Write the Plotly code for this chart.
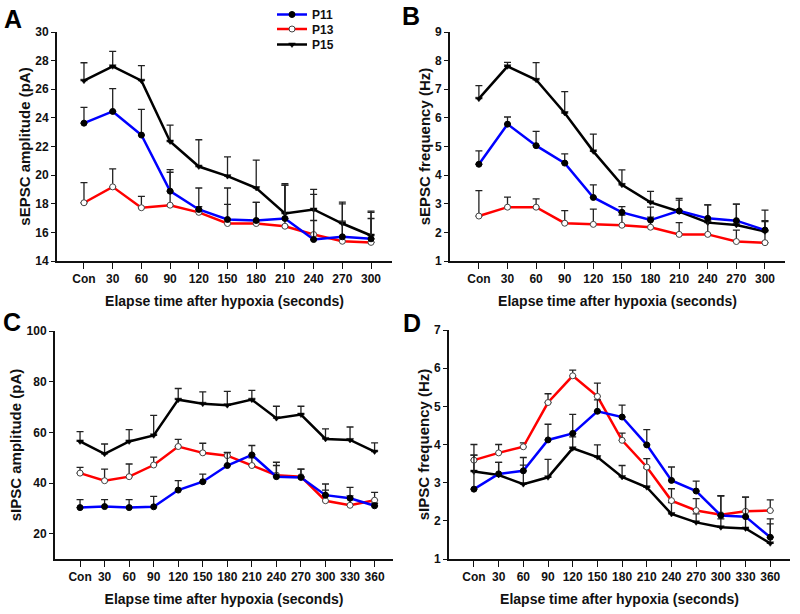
import plotly.graph_objects as go

# ---------------- data ----------------
cats_ab = ["Con", "30", "60", "90", "120", "150", "180", "210", "240", "270", "300"]
cats_cd = ["Con", "30", "60", "90", "120", "150", "180", "210", "240", "270", "300", "330", "360"]

# Panel A: sEPSC amplitude (pA)
P11_A = [23.63, 24.45, 22.8, 18.88, 17.6, 16.9, 16.83, 16.97, 15.5, 15.69, 15.55]
P11_A_err = [1.1, 1.6, 1.8, 1.5, 1.5, 2.2, 1.27, 2.33, 1.33, 2.3, 1.85]
P13_A = [18.07, 19.18, 17.72, 17.9, 17.4, 16.62, 16.62, 16.43, 15.85, 15.38, 15.3]
P13_A_err = [1.4, 1.26, 0.8, 2.3, 0.4, 1.33, 1.48, 2.87, 2.8, 1.4, 1.67]
P15_A = [26.6, 27.6, 26.6, 22.35, 20.6, 19.93, 19.1, 17.32, 17.6, 16.62, 15.78]
P15_A_err = [1.25, 1.05, 1.05, 1.15, 1.87, 1.35, 1.95, 2.08, 1.4, 1.5, 1.7]

# Panel B: sEPSC frequency (Hz)
P11_B = [4.38, 5.78, 5.03, 4.42, 3.22, 2.7, 2.43, 2.75, 2.49, 2.41, 2.08]
P11_B_err = [0.47, 0.25, 0.5, 0.32, 0.44, 0.2, 0.45, 0.38, 0.47, 0.58, 0.33]
P13_B = [2.57, 2.88, 2.88, 2.32, 2.28, 2.25, 2.18, 1.93, 1.93, 1.68, 1.64]
P13_B_err = [0.89, 0.35, 0.29, 0.44, 0.53, 0.35, 0.35, 0.41, 0.5, 0.4, 0.74]
P15_B = [6.67, 7.8, 7.33, 6.17, 4.83, 3.66, 3.05, 2.73, 2.34, 2.26, 2.03]
P15_B_err = [0.46, 0.14, 0.6, 0.75, 0.6, 0.52, 0.38, 0.46, 0.62, 0.73, 0.75]

# Panel C: sIPSC amplitude (pA)
P11_C = [30.3, 30.7, 30.3, 30.6, 37.2, 40.5, 46.9, 51.1, 42.5, 42.2, 35.2, 34.0, 31.0]
P11_C_err = [3.1, 2.7, 3.1, 4.1, 3.7, 3.0, 5.2, 3.7, 4.4, 3.3, 4.4, 4.3, 1.0]
P13_C = [43.9, 40.9, 42.5, 47.1, 54.4, 51.9, 50.8, 46.9, 43.1, 42.5, 33.0, 31.2, 33.2]
P13_C_err = [2.3, 4.6, 5.0, 3.1, 2.8, 3.8, 1.1, 3.0, 5.1, 3.0, 4.2, 3.7, 3.1]
P15_C = [56.4, 51.5, 56.4, 58.8, 72.9, 71.3, 70.7, 72.9, 65.6, 67.0, 57.4, 57.0, 52.4]
P15_C_err = [3.9, 3.9, 4.7, 7.9, 4.4, 4.7, 5.5, 3.7, 4.7, 3.3, 4.0, 5.1, 3.4]

# Panel D: sIPSC frequency (Hz)
P11_D = [2.83, 3.23, 3.31, 4.12, 4.29, 4.87, 4.72, 3.99, 3.06, 2.78, 2.14, 2.11, 1.57]
P11_D_err = [0.89, 0.3, 0.35, 0.41, 0.5, 0.3, 0.31, 0.4, 0.35, 0.26, 0.51, 0.51, 0.48]
P13_D = [3.59, 3.78, 3.94, 5.1, 5.8, 5.26, 4.11, 3.41, 2.53, 2.27, 2.16, 2.25, 2.27]
P13_D_err = [0.41, 0.22, 0.1, 0.23, 0.15, 0.35, 0.19, 0.22, 0.31, 0.31, 0.5, 0.37, 0.28]
P15_D = [3.29, 3.2, 2.96, 3.14, 3.9, 3.67, 3.15, 2.88, 2.18, 1.96, 1.83, 1.8, 1.41]
P15_D_err = [0.43, 0.33, 0.5, 0.47, 0.3, 0.32, 0.3, 0.5, 0.3, 0.22, 0.22, 0.29, 0.51]

series_names = ["P11", "P13", "P15"]
y_titles = ["sEPSC amplitude (pA)", "sEPSC frequency (Hz)", "sIPSC amplitude (pA)", "sIPSC frequency (Hz)"]
x_title = "Elapse time after hypoxia (seconds)"
panel_letters = ["A", "B", "C", "D"]

# ---------------- styling ----------------
W, H = 800, 614
FONT = "Liberation Sans, Arial, sans-serif"
line_colors = {"P11": "#0000ff", "P13": "#ff0000", "P15": "#000000"}
marker_styles = {
    "P11": dict(symbol="circle", size=6, color="#000000", line=dict(color="#000000", width=1)),
    "P13": dict(symbol="circle", size=6, color="#ffffff", line=dict(color="#444444", width=1)),
    "P15": dict(symbol="triangle-down", size=6, color="#000000", line=dict(color="#000000", width=0.5)),
}
legend_ids = {"P11": "legend", "P13": "legend2", "P15": "legend3"}
legend_tops = {"P11": 0, "P13": 14.5, "P15": 30}  # page px of each legend box top


def px_x(p):
    return p / W


def px_y(p):
    return 1 - p / H


panels = [
    dict(cats=cats_ab, data={"P11": (P11_A, P11_A_err), "P13": (P13_A, P13_A_err), "P15": (P15_A, P15_A_err)},
         xdom=(57, 392), ydom=(32, 261), yrange=(14, 30), dtick=2, tick0=14, xrange=(-0.94, 10.73)),
    dict(cats=cats_ab, data={"P11": (P11_B, P11_B_err), "P13": (P13_B, P13_B_err), "P15": (P15_B, P15_B_err)},
         xdom=(450, 785), ydom=(32, 261), yrange=(1, 9), dtick=1, tick0=1, xrange=(-1.01, 10.7)),
    dict(cats=cats_cd, data={"P11": (P11_C, P11_C_err), "P13": (P13_C, P13_C_err), "P15": (P15_C, P15_C_err)},
         xdom=(55, 393), ydom=(331, 559), yrange=(10, 100), dtick=20, tick0=0, xrange=(-1.02, 12.75)),
    dict(cats=cats_cd, data={"P11": (P11_D, P11_D_err), "P13": (P13_D, P13_D_err), "P15": (P15_D, P15_D_err)},
         xdom=(449, 790), ydom=(330, 559), yrange=(1, 7), dtick=1, tick0=1, xrange=(-1.01, 12.8)),
]

fig = go.Figure()
draw_order = ["P15", "P13", "P11"]
for i, p in enumerate(panels):
    xa = "x" if i == 0 else f"x{i+1}"
    ya = "y" if i == 0 else f"y{i+1}"
    for name in draw_order:
        vals, errs = p["data"][name]
        fig.add_trace(go.Scatter(
            x=p["cats"], y=vals, mode="lines+markers", name=name,
            xaxis=xa, yaxis=ya,
            line=dict(color=line_colors[name], width=2.5),
            marker=marker_styles[name],
            error_y=dict(type="data", array=errs, arrayminus=[0] * len(errs), symmetric=False,
                         color="#222222", thickness=1.3, width=3.5),
            showlegend=(i == 0), legend=legend_ids[name],
        ))

legend_font = dict(family=FONT, size=12, color="#111111", weight="bold")
layout = dict(
    width=W, height=H, margin=dict(l=0, r=0, t=0, b=0),
    paper_bgcolor="white", plot_bgcolor="white",
    font=dict(family=FONT, size=12, color="#111111", weight="bold"),
    showlegend=True,
)
for name in series_names:
    layout[legend_ids[name]] = dict(
        x=px_x(272), y=px_y(legend_tops[name]), xanchor="left", yanchor="top",
        font=legend_font, bgcolor="rgba(0,0,0,0)", itemwidth=30,
    )

annotations = []
for i, p in enumerate(panels):
    xk = "xaxis" if i == 0 else f"xaxis{i+1}"
    yk = "yaxis" if i == 0 else f"yaxis{i+1}"
    ya = "y" if i == 0 else f"y{i+1}"
    xa = "x" if i == 0 else f"x{i+1}"
    layout[xk] = dict(
        domain=[px_x(p["xdom"][0]), px_x(p["xdom"][1])],
        anchor=ya, type="category", categoryorder="array", categoryarray=p["cats"],
        range=list(p["xrange"]), showgrid=False, zeroline=False,
        showline=True, linecolor="#111111", linewidth=2,
        ticks="outside", ticklen=6, tickwidth=1.2, tickcolor="#111111",
        tickfont=dict(family=FONT, size=12, color="#111111", weight="bold"),
        title=dict(text=x_title, font=dict(family=FONT, size=14, color="#111111", weight="bold"), standoff=11),
        automargin=False,
    )
    layout[yk] = dict(
        domain=[px_y(p["ydom"][1]), px_y(p["ydom"][0])],
        anchor=xa, range=list(p["yrange"]), dtick=p["dtick"], tick0=p["tick0"],
        showgrid=False, zeroline=False,
        showline=True, linecolor="#111111", linewidth=2,
        ticks="outside", ticklen=4, tickwidth=1.2, tickcolor="#111111",
        tickfont=dict(family=FONT, size=12, color="#111111", weight="bold"),
        title=dict(text=y_titles[i], font=dict(family=FONT, size=15, color="#111111", weight="bold"), standoff=1),
        automargin=False,
    )

letter_pos = [(13, 19), (411, 16), (12, 322), (412, 323)]
for letter, (lx, ly) in zip(panel_letters, letter_pos):
    annotations.append(dict(text=letter, x=px_x(lx), y=px_y(ly), xref="paper", yref="paper",
                            xanchor="center", yanchor="middle", showarrow=False,
                            font=dict(family=FONT, size=25, color="#000000", weight="bold")))
layout["annotations"] = annotations

fig.update_layout(**layout)
# remove the browser's default 8px body margin so the figure fills the window exactly
fig.write_html("out.html", config={"displayModeBar": False},
               post_script="document.body.style.margin='0px';")
